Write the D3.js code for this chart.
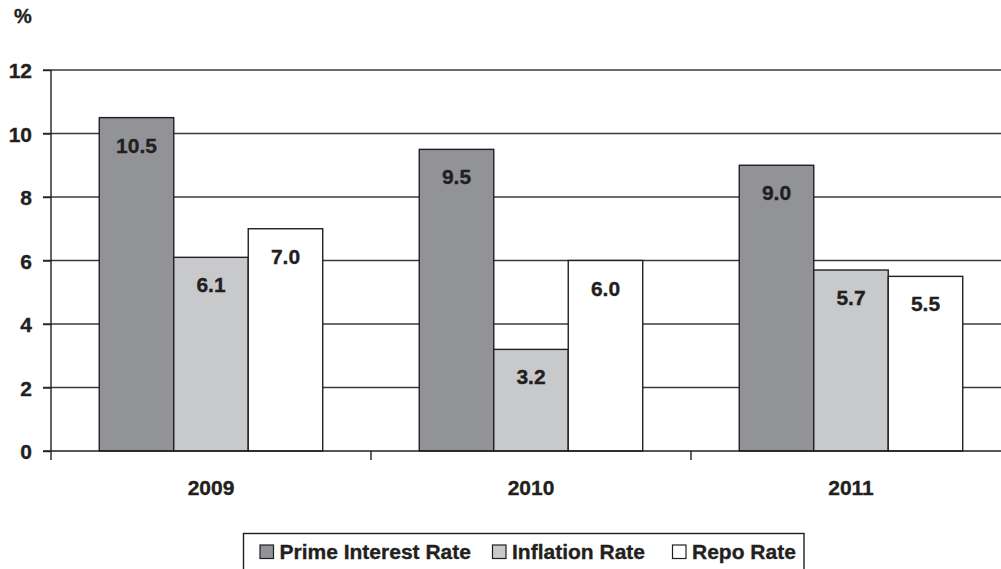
<!DOCTYPE html>
<html>
<head>
<meta charset="utf-8">
<script src="https://cdn.jsdelivr.net/npm/d3@7"></script>
<style>
  html, body { margin: 0; padding: 0; background: #fff; }
  svg { display: block; font-family: "Liberation Sans", Arial, Helvetica, sans-serif; font-weight: bold; }
  svg text { stroke: #231f20; stroke-width: 0.35px; }
</style>
</head>
<body>
<svg id="chart" width="1001" height="569"></svg>
<script>
// Interest and inflation rates by year (%)
const years = ["2009", "2010", "2011"];
const seriesNames = ["Prime Interest Rate", "Inflation Rate", "Repo Rate"];
const primeRate = [10.5, 9.5, 9.0];
const inflationRate = [6.1, 3.2, 5.7];
const repoRate = [7.0, 6.0, 5.5];
const yTicks = [0, 2, 4, 6, 8, 10, 12];

const seriesValues = [primeRate, inflationRate, repoRate];
const fills = ["#929397", "#c8c9cb", "#ffffff"];
const ink = "#231f20";

const svg = d3.select("#chart");

const plot = { left: 51, right: 1011, top: 70, bottom: 451 };

const y = d3.scaleLinear().domain([0, 12]).range([plot.bottom, plot.top]);
const x0 = d3.scaleBand().domain(years).range([plot.left, plot.right]).padding(0);
const x1 = d3.scaleBand().domain(seriesNames).range([0, x0.bandwidth()])
  .paddingInner(0).paddingOuter(0.648);

// horizontal grid lines
svg.append("g")
  .selectAll("line")
  .data(yTicks.filter(t => t > 0))
  .join("line")
  .attr("x1", 43).attr("x2", 1001)
  .attr("y1", d => y(d)).attr("y2", d => y(d))
  .attr("stroke", "#3a3a3a").attr("stroke-width", 1.4);

// bars
const rows = years.map((yr, i) => ({
  year: yr,
  bars: seriesNames.map((s, j) => ({ series: s, value: seriesValues[j][i], fill: fills[j] }))
}));

const groups = svg.append("g")
  .selectAll("g")
  .data(rows)
  .join("g")
  .attr("transform", d => `translate(${x0(d.year)},0)`);

groups.selectAll("rect")
  .data(d => d.bars)
  .join("rect")
  .attr("x", d => x1(d.series))
  .attr("width", x1.bandwidth())
  .attr("y", d => y(d.value))
  .attr("height", d => y(0) - y(d.value))
  .attr("fill", d => d.fill)
  .attr("stroke", ink).attr("stroke-width", 1.4);

groups.selectAll("text")
  .data(d => d.bars)
  .join("text")
  .attr("x", d => x1(d.series) + x1.bandwidth() / 2)
  .attr("y", d => y(d.value) + 35)
  .attr("text-anchor", "middle")
  .attr("font-size", 21)
  .attr("fill", ink)
  .text(d => d.value.toFixed(1));

// y axis
const yAxis = svg.append("g")
  .attr("transform", `translate(${plot.left},0)`)
  .call(d3.axisLeft(y).tickValues(yTicks).tickSize(8).tickPadding(11).tickFormat(d3.format("d")));
yAxis.select(".domain").attr("d", `M0,${plot.top}V${plot.bottom + 9}`)
  .attr("stroke", ink).attr("stroke-width", 1.4);
yAxis.selectAll(".tick line").attr("stroke", ink).attr("stroke-width", 1.4);
yAxis.selectAll(".tick text")
  .attr("font-size", 21).attr("font-family", "Liberation Sans, Arial, sans-serif")
  .attr("font-weight", "bold").attr("fill", ink).attr("dy", "0.36em");

// x axis baseline and category separators
svg.append("line")
  .attr("x1", 43).attr("x2", 1001)
  .attr("y1", y(0)).attr("y2", y(0))
  .attr("stroke", ink).attr("stroke-width", 1.4);

svg.append("g")
  .selectAll("line")
  .data(years.slice(1))
  .join("line")
  .attr("x1", d => x0(d)).attr("x2", d => x0(d))
  .attr("y1", y(0)).attr("y2", y(0) + 9)
  .attr("stroke", ink).attr("stroke-width", 1.4);

svg.append("g")
  .selectAll("text")
  .data(years)
  .join("text")
  .attr("x", d => x0(d) + x0.bandwidth() / 2)
  .attr("y", 495)
  .attr("text-anchor", "middle")
  .attr("font-size", 21)
  .attr("fill", ink)
  .text(d => d);

// unit label
svg.append("text")
  .attr("x", 14).attr("y", 23)
  .attr("font-size", 20)
  .attr("fill", ink)
  .text("%");

// legend
const legend = svg.append("g");
legend.append("rect")
  .attr("x", 243.5).attr("y", 533.5)
  .attr("width", 560.5).attr("height", 50)
  .attr("fill", "#fff").attr("stroke", ink).attr("stroke-width", 1.4);

const legendX = [260, 492.5, 672.5];
const items = legend.selectAll("g.item")
  .data(seriesNames)
  .join("g")
  .attr("class", "item")
  .attr("transform", (d, i) => `translate(${legendX[i]},0)`);

items.append("rect")
  .attr("x", 0).attr("y", 545)
  .attr("width", 13.5).attr("height", 13.5)
  .attr("fill", (d, i) => fills[i])
  .attr("stroke", ink).attr("stroke-width", 1.2);

items.append("text")
  .attr("x", 19.5).attr("y", 558.5)
  .attr("font-size", 21)
  .attr("fill", ink)
  .text(d => d);
</script>
</body>
</html>
